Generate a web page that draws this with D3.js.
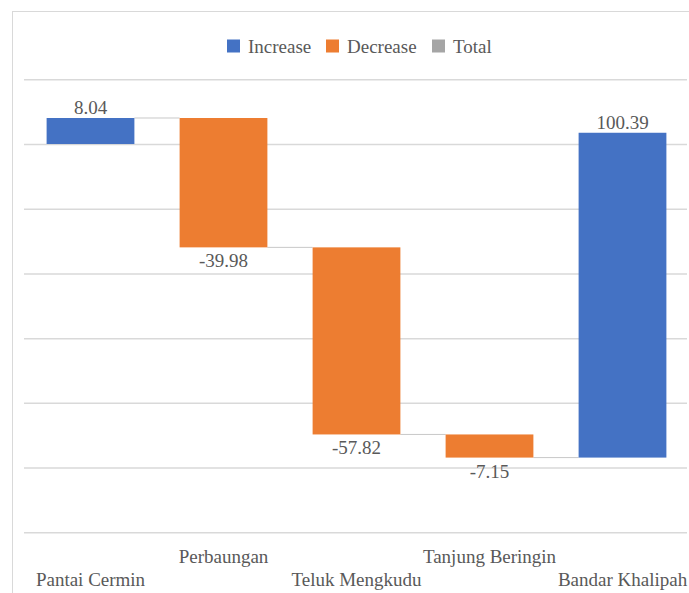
<!DOCTYPE html>
<html><head><meta charset="utf-8">
<script src="https://cdn.jsdelivr.net/npm/d3@7"></script>
<style>body{margin:0;background:#fff}svg{display:block}</style>
</head><body>
<svg id="c" width="689" height="593"></svg>
<script>
const categories = ["Pantai Cermin","Perbaungan","Teluk Mengkudu","Tanjung Beringin","Bandar Khalipah"];
const values = [8.04, -39.98, -57.82, -7.15, 100.39];
const yTicks = [-120,-100,-80,-60,-40,-20,0,20];
const legendItems = ["Increase","Decrease","Total"];
const legendColors = ["#4472C4","#ED7D31","#A5A5A5"];

const FONT = "Liberation Serif";
const svg = d3.select("#c").attr("font-family", FONT);
const textColor = "#595959";

// chart border
svg.append("rect").attr("x",12.5).attr("y",11.5).attr("width",800).attr("height",800)
  .attr("fill","none").attr("stroke","#d9d9d9").attr("stroke-width",1);

const x = d3.scaleBand().domain(categories).range([24,689]).paddingInner(0.34).paddingOuter(0.17);
const y = d3.scaleLinear().domain([-120,20]).range([532.3,79.3]);

// gridlines
const gy = svg.append("g").attr("transform","translate(24,0)")
  .call(d3.axisLeft(y).tickValues(yTicks).tickSize(-663).tickFormat(""));
gy.select(".domain").remove();
gy.selectAll(".tick line").attr("stroke","#d9d9d9").attr("stroke-width",1.5);

// waterfall data
let run = 0;
const bars = values.map((v,i)=>{ const s = run; run += v; return {cat:categories[i], v, start:s, end:run}; });

// connectors
bars.slice(0,-1).forEach((b,i)=>{
  const n = bars[i+1];
  svg.append("line").attr("x1",x(b.cat)+x.bandwidth()).attr("x2",x(n.cat))
    .attr("y1",y(b.end)).attr("y2",y(b.end)).attr("stroke","#c8c8c8").attr("stroke-width",1);
});

svg.selectAll("rect.bar").data(bars).join("rect").attr("class","bar")
  .attr("x",d=>x(d.cat)).attr("width",x.bandwidth())
  .attr("y",d=>y(Math.max(d.start,d.end))).attr("height",d=>Math.abs(y(d.start)-y(d.end)))
  .attr("fill",d=>d.v>=0?legendColors[0]:legendColors[1]);

svg.selectAll("text.val").data(bars).join("text").attr("class","val")
  .attr("x",d=>x(d.cat)+x.bandwidth()/2)
  .attr("y",d=>d.v>=0 ? y(d.end)-4 : y(d.end)+20)
  .attr("text-anchor","middle").attr("font-size",19).attr("fill",textColor)
  .attr("font-family",FONT)
  .text(d=>d.v.toFixed(2));

// category axis (staggered)
const gx = svg.append("g").attr("transform","translate(0,540)")
  .call(d3.axisBottom(x).tickSize(0));
gx.attr("font-family",FONT);
gx.select(".domain").remove();
gx.selectAll(".tick text").attr("font-size",19).attr("fill",textColor)
  .attr("font-family",FONT)
  .attr("y",(d,i)=> i%2===1 ? 23 : 46).attr("dy",0);

// legend
const lx = [227, 326, 432];
const lg = svg.append("g");
legendItems.forEach((t,i)=>{
  lg.append("rect").attr("x",lx[i]).attr("y",39.5).attr("width",13).attr("height",13).attr("fill",legendColors[i]);
  lg.append("text").attr("x",lx[i]+21).attr("y",53.3).attr("font-size",19).attr("fill",textColor)
    .attr("font-family",FONT).text(t);
});
</script>
</body></html>
